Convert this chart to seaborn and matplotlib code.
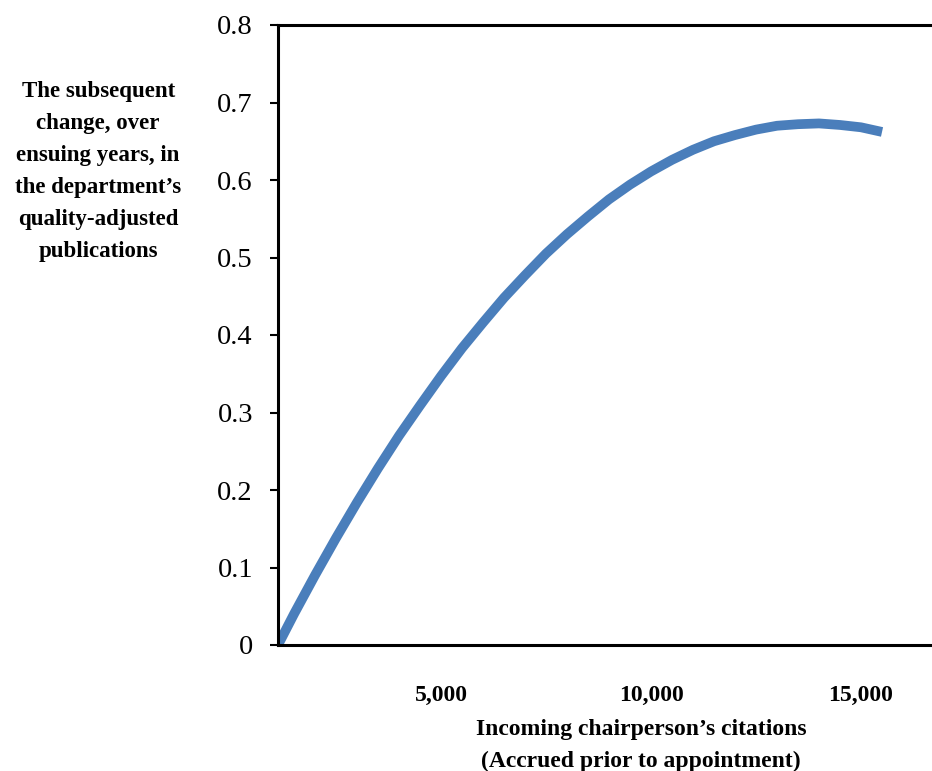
import pandas as pd
import seaborn as sns
import matplotlib.pyplot as plt

# Datos
citations = [1119, 1500, 2000, 2500, 3000, 3500, 4000, 4500, 5000, 5500,
             6000, 6500, 7000, 7500, 8000, 8500, 9000, 9500, 10000, 10500,
             11000, 11500, 12000, 12500, 13000, 13500, 14000, 14500, 15000, 15500]
change = [0.0, 0.040, 0.090, 0.138, 0.184, 0.228, 0.270, 0.309, 0.347, 0.383,
          0.416, 0.448, 0.477, 0.505, 0.530, 0.553, 0.575, 0.594, 0.611, 0.626,
          0.639, 0.650, 0.658, 0.665, 0.670, 0.672, 0.673, 0.671, 0.668, 0.662]
x_ticks = [5000, 10000, 15000]
x_tick_labels = ["5,000", "10,000", "15,000"]
y_ticks = [0, 0.1, 0.2, 0.3, 0.4, 0.5, 0.6, 0.7, 0.8]
y_tick_labels = ["0", "0.1", "0.2", "0.3", "0.4", "0.5", "0.6", "0.7", "0.8"]

df = pd.DataFrame({"citations": citations, "change": change})

sns.set_style("white")
plt.rcParams["font.family"] = ["Liberation Serif", "DejaVu Serif"]
plt.rcParams["text.color"] = "black"
plt.rcParams["xtick.color"] = "black"
plt.rcParams["ytick.color"] = "black"
plt.rcParams["axes.labelcolor"] = "black"

fig = plt.figure(figsize=(9.32, 7.71), dpi=100)
ax = fig.add_axes([278 / 932, 1 - 645 / 771, 1 - 278 / 932, (645 - 25) / 771])

sns.lineplot(data=df, x="citations", y="change", ax=ax, color="#4a7ebb",
             linewidth=7, sort=False, solid_capstyle="butt")

ax.set_xlim(1119, 16690)
ax.set_ylim(0, 0.8)
ax.set_xticks(x_ticks)
ax.set_xticklabels(x_tick_labels, fontsize=17, fontweight="bold")
ax.set_yticks(y_ticks)
ax.set_yticklabels(y_tick_labels, fontsize=20.5)
ax.tick_params(axis="x", length=0, pad=29)
ax.tick_params(axis="y", length=6, width=1.5, pad=12, left=True)

for side in ["left", "top", "bottom"]:
    ax.spines[side].set_color("black")
    ax.spines[side].set_linewidth(2.2)
ax.spines["right"].set_visible(False)

ax.set_xlabel("Incoming chairperson’s citations\n(Accrued prior to appointment)",
              fontsize=17, fontweight="bold", linespacing=1.62)
ax.xaxis.set_label_coords(0.555, -0.12)
ax.xaxis.label.set_va("top")

ax.set_ylabel("The subsequent\nchange, over\nensuing years, in\nthe department’s\n"
              "quality-adjusted\npublications",
              fontsize=16.5, fontweight="bold", rotation=0, linespacing=1.68,
              ha="center", va="center", multialignment="center")
ax.yaxis.set_label_coords(-0.275, 0.764)

plt.savefig("out.png", dpi=100)
